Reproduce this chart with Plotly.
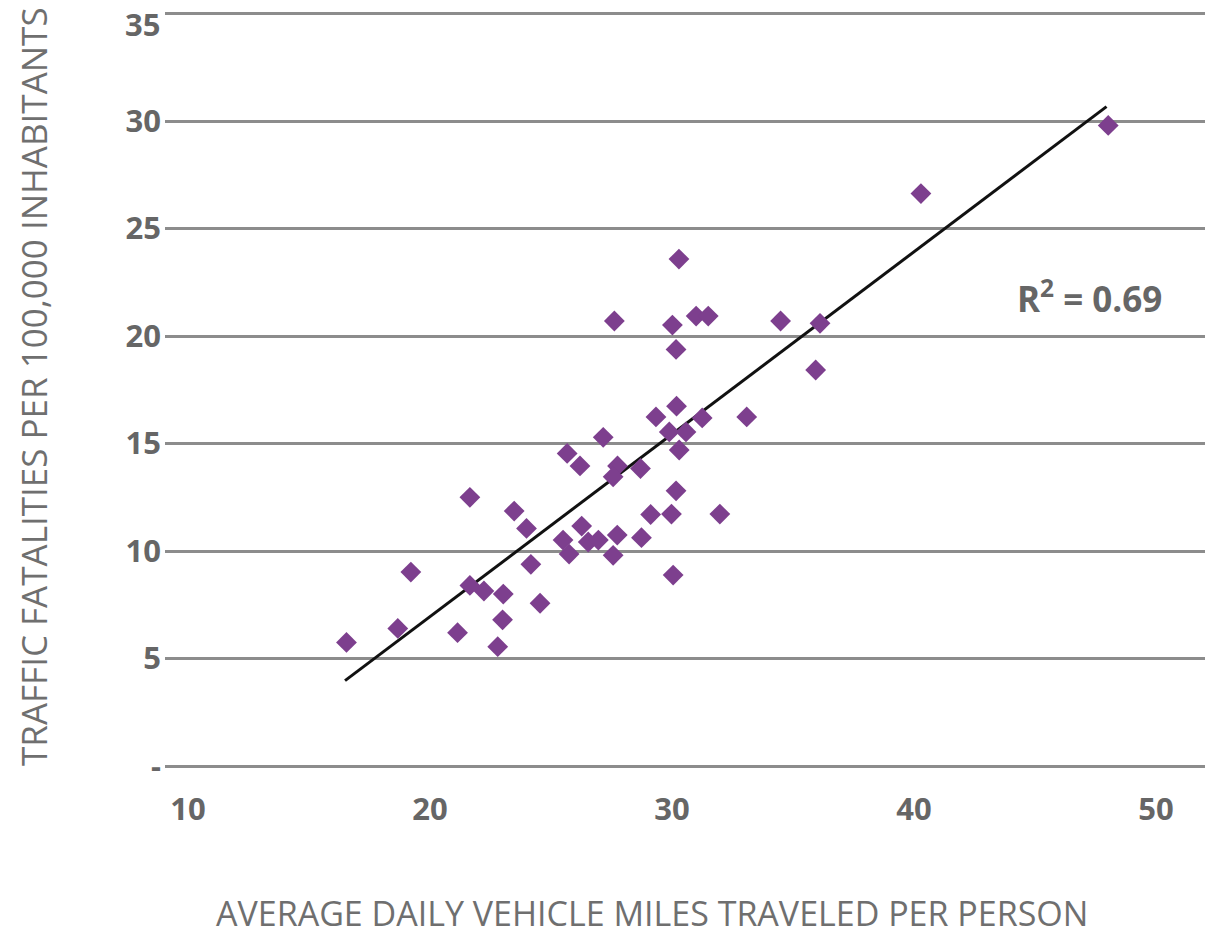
import plotly.graph_objects as go

miles = [16.55, 18.67, 19.21, 21.14, 21.65, 21.65, 22.23, 23.03, 23.00, 22.80,
         23.48, 23.99, 24.17, 24.55, 25.67, 26.20, 27.16, 27.75, 27.57, 25.50,
         25.75, 26.27, 26.54, 26.96, 27.74, 27.57, 28.74, 28.70, 29.12, 29.98,
         31.98, 30.17, 30.05, 29.34, 29.89, 30.58, 31.25, 30.19, 33.09, 30.30,
         30.17, 30.02, 27.62, 31.00, 31.50, 30.29, 34.49, 36.12, 35.94, 40.29,
         48.03]
fatalities = [5.75, 6.40, 9.02, 6.20, 12.50, 8.40, 8.14, 8.00, 6.80, 5.55,
              11.86, 11.05, 9.38, 7.57, 14.54, 13.96, 15.29, 13.96, 13.45, 10.51,
              9.86, 11.16, 10.42, 10.51, 10.74, 9.80, 10.62, 13.84, 11.70, 11.72,
              11.72, 12.80, 8.88, 16.24, 15.54, 15.54, 16.19, 16.74, 16.24, 14.70,
              19.38, 20.51, 20.70, 20.93, 20.93, 23.58, 20.70, 20.59, 18.42, 26.63,
              29.80]

trend_x = [16.49, 47.96]
trend_y = [3.97, 30.67]

y_tickvals = [0, 5, 10, 15, 20, 25, 30, 35]
y_ticktext = ["-", "5", "10", "15", "20", "25", "30", "35"]
x_tickvals = [10, 20, 30, 40, 50]
x_ticktext = ["10", "20", "30", "40", "50"]

r2_label = "R<sup>2</sup> = 0.69"
x_title = "AVERAGE DAILY VEHICLE MILES TRAVELED PER PERSON"
y_title = "TRAFFIC FATALITIES PER 100,000 INHABITANTS"

FAM = "Open Sans, sans-serif"
tick_font = dict(family=FAM, size=31, color="#666666", weight="bold")

# the page body adds an 8px offset, so the figure is sized/positioned to compensate
OFF = 8
W, H = 1213 - OFF, 940 - OFF
L, R, T, B = 165 - OFF, 0, 0, H - (790 - OFF)
pw, ph = W - L - R, H - T - B


def px_to_paper(px, py):
    return (px - OFF - L) / pw, (H - B - (py - OFF)) / ph


# the top tick label would be clipped at the page edge, so it is drawn as an
# annotation anchored to its tick value and nudged to stay inside the page
top_tick = y_tickvals[-1]
axis_ticktext = y_ticktext[:-1] + [""]

fig = go.Figure()
fig.add_trace(go.Scatter(
    x=trend_x, y=trend_y, mode="lines",
    line=dict(color="#111111", width=3), hoverinfo="skip", showlegend=False))
fig.add_trace(go.Scatter(
    x=miles, y=fatalities, mode="markers",
    marker=dict(symbol="diamond", size=16, color="#7d3f8e", line=dict(width=0)),
    showlegend=False))

fig.add_annotation(x=47.27, y=21.86, xref="x", yref="y", text=r2_label,
                   showarrow=False,
                   font=dict(family=FAM, size=35, color="#666666", weight="bold"))

fig.add_annotation(x=0, y=top_tick, xref="paper", yref="y", text=y_ticktext[-1],
                   showarrow=False, xanchor="right", yanchor="top", borderpad=0,
                   xshift=-4, yshift=12, font=tick_font)

xt_x, xt_y = px_to_paper(652, 913)
fig.add_annotation(x=xt_x, y=xt_y, xref="paper", yref="paper", text=x_title,
                   showarrow=False, xanchor="center", yanchor="middle",
                   font=dict(family=FAM, size=34, color="#6f6f6f"))
yt_x, yt_y = px_to_paper(34, 387)
fig.add_annotation(x=yt_x, y=yt_y, xref="paper", yref="paper", text=y_title,
                   showarrow=False, textangle=-90, xanchor="center", yanchor="middle",
                   font=dict(family=FAM, size=35, color="#6f6f6f"))

fig.update_layout(
    width=W, height=H,
    margin=dict(l=L, r=R, t=T, b=B),
    plot_bgcolor="white", paper_bgcolor="white",
    xaxis=dict(range=[9.05, 52.36], tickvals=x_tickvals, ticktext=x_ticktext,
               showgrid=False, zeroline=False, showline=False, automargin=False,
               tickfont=tick_font, ticks="", ticklabelstandoff=-2),
    yaxis=dict(range=[-1.116, 35.26], tickvals=y_tickvals, ticktext=axis_ticktext,
               showgrid=True, gridcolor="#8c8c8c", gridwidth=3,
               zeroline=False, showline=False, automargin=False,
               ticklabeloverflow="allow", ticks="", ticklabelstandoff=3,
               tickfont=tick_font),
)

fig.write_html("out.html")
